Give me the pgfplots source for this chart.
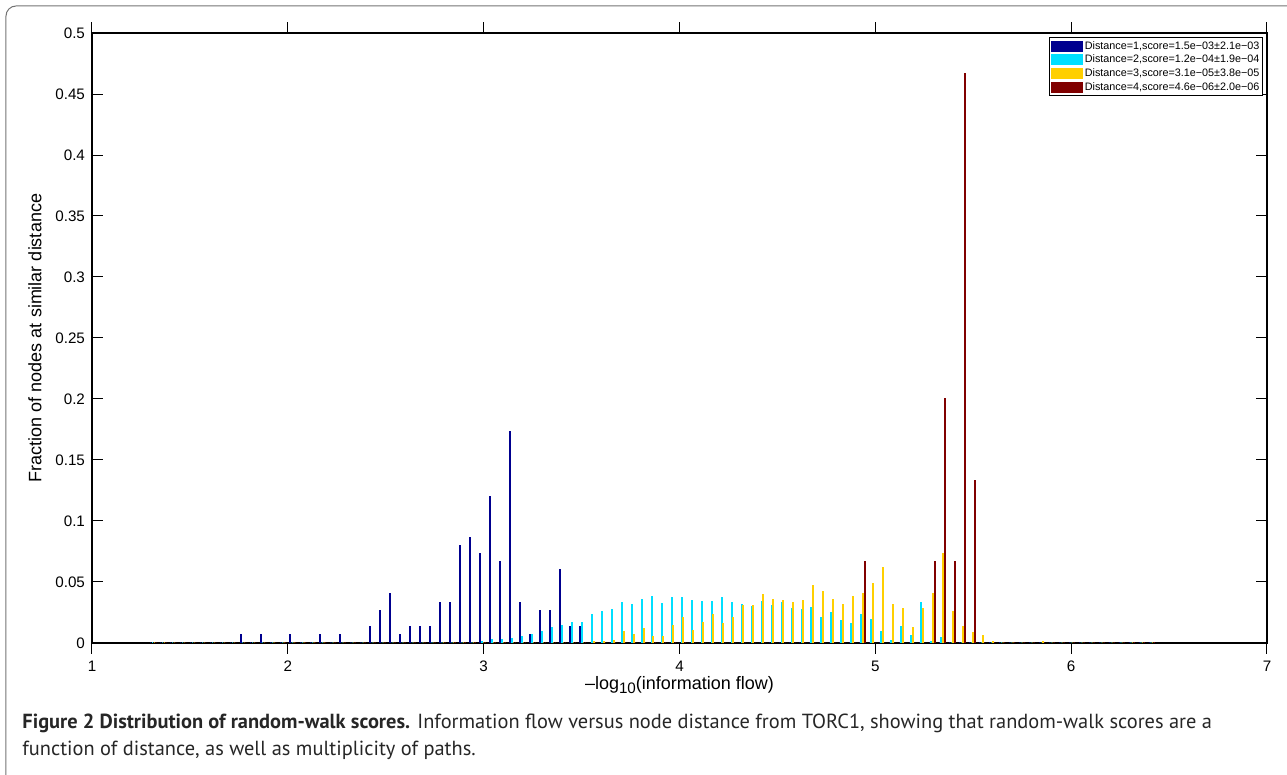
\documentclass[border=0pt]{standalone}
\usepackage{fontspec}
\setmainfont{Liberation Sans}
\newfontfamily\capfont{PT Sans}
\usepackage{pgfplots}
\usepackage{pgfplotstable}
\pgfplotsset{compat=1.18}
\definecolor{d1}{RGB}{0,0,143}
\definecolor{d2}{RGB}{0,223,255}
\definecolor{d3}{RGB}{255,207,0}
\definecolor{d4}{RGB}{128,0,0}

% bin centre, then fraction of nodes for distance 1..4
\pgfplotstableread{
x a b c d
1.3132 0 0 0 0
1.3642 0 0 0 0
1.4152 0 0 0 0
1.4662 0 0 0 0
1.5172 0 0 0 0
1.5682 0 0 0 0
1.6191 0 0 0 0
1.6701 0 0 0 0
1.7211 0 0 0 0
1.7721 0.0067 0 0 0
1.8231 0 0 0 0
1.8741 0.0067 0 0 0
1.9251 0 0 0 0
1.9761 0 0 0 0
2.0271 0.0067 0 0 0
2.0781 0 0 0 0
2.1290 0 0 0 0
2.1800 0.0067 0 0 0
2.2310 0 0 0 0
2.2820 0.0067 0 0 0
2.3330 0 0 0 0
2.3840 0 0 0 0
2.4350 0.0133 0 0 0
2.4860 0.0267 0 0 0
2.5370 0.0400 0 0 0
2.5880 0.0067 0 0 0
2.6389 0.0133 0 0 0
2.6899 0.0133 0 0 0
2.7409 0.0133 0 0 0
2.7919 0.0333 0 0 0
2.8429 0.0333 0 0 0
2.8939 0.0800 0 0 0
2.9449 0.0867 0 0 0
2.9959 0.0733 0.0010 0 0
3.0469 0.1200 0.0025 0 0
3.0979 0.0667 0.0030 0 0
3.1488 0.1733 0.0035 0 0
3.1998 0.0333 0.0050 0 0
3.2508 0.0067 0.0066 0 0
3.3018 0.0267 0.0090 0 0
3.3528 0.0267 0.0124 0 0
3.4038 0.0600 0.0140 0 0
3.4548 0.0133 0.0165 0 0
3.5058 0.0133 0.0170 0 0
3.5568 0 0.0236 0.0010 0
3.6078 0 0.0258 0.0010 0
3.6587 0 0.0275 0.0016 0
3.7097 0 0.0330 0.0090 0
3.7607 0 0.0316 0.0066 0
3.8117 0 0.0357 0.0115 0
3.8627 0 0.0376 0.0055 0
3.9137 0 0.0321 0.0055 0
3.9647 0 0.0371 0.0140 0
4.0157 0 0.0371 0.0206 0
4.0667 0 0.0349 0.0104 0
4.1177 0 0.0338 0.0165 0
4.1686 0 0.0338 0.0230 0
4.2196 0 0.0374 0.0157 0
4.2706 0 0.0332 0.0206 0
4.3216 0 0.0310 0.0305 0
4.3726 0 0.0297 0.0305 0
4.4236 0 0.0340 0.0396 0
4.4746 0 0.0305 0.0354 0
4.5256 0 0.0332 0.0343 0
4.5766 0 0.0283 0.0330 0
4.6276 0 0.0272 0.0343 0
4.6785 0 0.0286 0.0470 0
4.7295 0 0.0206 0.0420 0
4.7805 0 0.0250 0.0354 0
4.8315 0 0.0181 0.0316 0
4.8825 0 0.0160 0.0376 0
4.9335 0 0.0236 0.0400 0.0667
4.9845 0 0.0192 0.0490 0
5.0355 0 0.0090 0.0615 0
5.0865 0 0.0022 0.0316 0
5.1375 0 0.0132 0.0277 0
5.1884 0 0.0058 0.0126 0
5.2394 0 0.0327 0.0277 0
5.2904 0 0.0010 0.0400 0.0667
5.3414 0 0.0040 0.0730 0.2000
5.3924 0 0 0.0260 0.0667
5.4434 0 0 0.0137 0.4667
5.4944 0 0 0.0088 0.1333
5.5454 0 0 0.0063 0
5.5964 0 0 0.0014 0
5.6474 0 0 0 0
5.6983 0 0 0 0
5.7493 0 0 0 0
5.8003 0 0 0 0
5.8513 0 0 0.0010 0
5.9023 0 0 0 0
5.9533 0 0 0 0
6.0043 0 0 0 0
6.0553 0 0 0 0
6.1063 0 0 0 0
6.1573 0 0 0 0
6.2082 0 0 0 0
6.2592 0 0 0 0
6.3102 0 0 0 0
6.3612 0 0 0 0
6.4122 0 0 0 0
}\hist

\begin{document}
\begin{tikzpicture}
\useasboundingbox (-46pt,-66pt) rectangle (597.5pt,321.5pt);
\draw[black!55, line width=0.5pt, rounded corners=5pt] (-43pt,-80pt) rectangle (620pt,318.5pt);
\begin{axis}[
  at={(0,0)}, anchor=south west,
  width=587.5pt, height=305pt, scale only axis,
  xmin=1, xmax=7, ymin=0, ymax=0.5,
  xtick={1,2,3,4,5,6,7},
  ytick={0,0.05,0.1,0.15,0.2,0.25,0.3,0.35,0.4,0.45,0.5},
  yticklabels={0,0.05,0.1,0.15,0.2,0.25,0.3,0.35,0.4,0.45,0.5},
  /pgf/number format/assume math mode=true,
  tick align=inside, xtick pos=both, ytick pos=both,
  major tick length=5.5pt,
  every tick/.style={black, line width=0.5pt},
  axis line style={line width=0.6pt},
  tick label style={font=\fontsize{7.6}{9}\selectfont},
  label style={font=\fontsize{9}{10}\selectfont},
  xlabel={–log\raisebox{-0.45ex}{\fontsize{7.6}{8}\selectfont 10}(information flow)},
  ylabel={Fraction of nodes at similar distance},
  xlabel style={at={(axis description cs:0.5,0)}, anchor=center, yshift=-21pt},
  ylabel style={at={(axis description cs:-0.0485,0.5)}, anchor=center},
  ybar, bar width=0.3pt,
  legend image code/.code={\draw[#1] (0pt,-2.4pt) rectangle (15.5pt,2.4pt);},
  legend style={at={(1,1)}, anchor=north east, xshift=-2pt, yshift=-2.2pt,
    draw=black, line width=0.5pt, inner sep=0.8pt, row sep=0pt,
    font=\fontsize{5.4}{6}\selectfont,
    nodes={inner sep=0.7pt, text height=4.2pt, text depth=1.2pt}},
  legend cell align=left,
]
\addplot[fill=d1, draw=d1, line width=0.7pt, bar shift=-1.32pt] table[x=x, y=a] {\hist};
\addlegendentry{Distance=1,score=1.5e−03±2.1e−03}
\addplot[fill=d2, draw=d2, line width=0.7pt, bar shift=-0.44pt] table[x=x, y=b] {\hist};
\addlegendentry{Distance=2,score=1.2e−04±1.9e−04}
\addplot[fill=d3, draw=d3, line width=0.7pt, bar shift=0.44pt] table[x=x, y=c] {\hist};
\addlegendentry{Distance=3,score=3.1e−05±3.8e−05}
\addplot[fill=d4, draw=d4, line width=0.7pt, bar shift=1.32pt] table[x=x, y=d] {\hist};
\addlegendentry{Distance=4,score=4.6e−06±2.0e−06}
\end{axis}
\node[anchor=base west, inner sep=0, text=black!85] at (-35pt,-43pt)
  {\capfont\fontsize{10.2}{11}\selectfont\textbf{Figure 2 Distribution of random-walk scores.} Information flow versus node distance from TORC1, showing that random-walk scores are a};
\node[anchor=base west, inner sep=0, text=black!85] at (-35pt,-56.5pt)
  {\capfont\fontsize{10.2}{11}\selectfont function of distance, as well as multiplicity of paths.};
\end{tikzpicture}
\end{document}
